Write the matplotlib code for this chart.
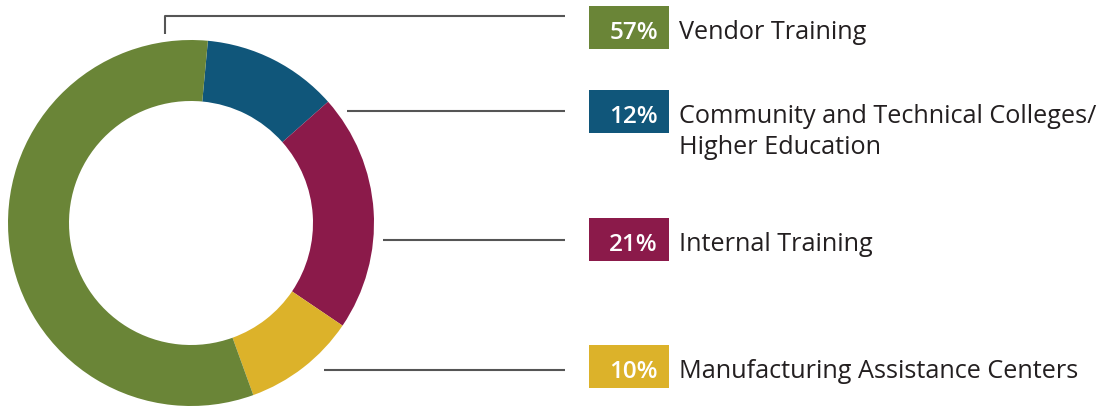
import matplotlib
matplotlib.use("Agg")
import matplotlib.pyplot as plt
from matplotlib.patches import Rectangle

# Data
categories = ["Community and Technical Colleges/\nHigher Education", "Internal Training",
              "Manufacturing Assistance Centers", "Vendor Training"]
values = [12, 21, 10, 57]
colors = ["#10567a", "#8b1a4a", "#dcb22a", "#6a8537"]
pct_labels = ["12%", "21%", "10%", "57%"]

W, H = 1118, 407
fig = plt.figure(figsize=(W / 100, H / 100), dpi=100)
ax = fig.add_axes([0, 0, 1, 1])

def Y(y):
    return H - y

cx, cy, R, ring = 191, 223, 183, 61
ax.pie(values, colors=colors, startangle=84.7, counterclock=False, radius=R,
       center=(cx, Y(cy)), wedgeprops=dict(width=ring, edgecolor="none", linewidth=0))

ax.set_xlim(0, W)
ax.set_ylim(0, H)
ax.set_aspect("equal")
ax.axis("off")

line_kw = dict(color="#555555", lw=1.5, solid_capstyle="butt")
# leader lines (order: blue, maroon, yellow, green)
ax.plot([347, 565], [Y(111), Y(111)], **line_kw)
ax.plot([383, 565], [Y(240), Y(240)], **line_kw)
ax.plot([324, 565], [Y(370), Y(370)], **line_kw)
ax.plot([165, 165, 565], [Y(34), Y(16), Y(16)], **line_kw)

box_tops = [90, 218, 345, 6]
fam = ["Open Sans", "DejaVu Sans"]
for cat, col, pct, top in zip(categories, colors, pct_labels, box_tops):
    ax.add_patch(Rectangle((589, Y(top + 43)), 80, 43, facecolor=col, edgecolor="none"))
    ax.text(658, Y(top + 33), pct, color="white", fontsize=17.5, fontweight="semibold",
            ha="right", va="baseline", family=fam)
    for i, line in enumerate(cat.split("\n")):
        ax.text(679, Y(top + 33 + i * 31), line, color="#231f20", fontsize=18.2,
                ha="left", va="baseline", family=fam)

fig.savefig("out.png", dpi=100, facecolor="white")
